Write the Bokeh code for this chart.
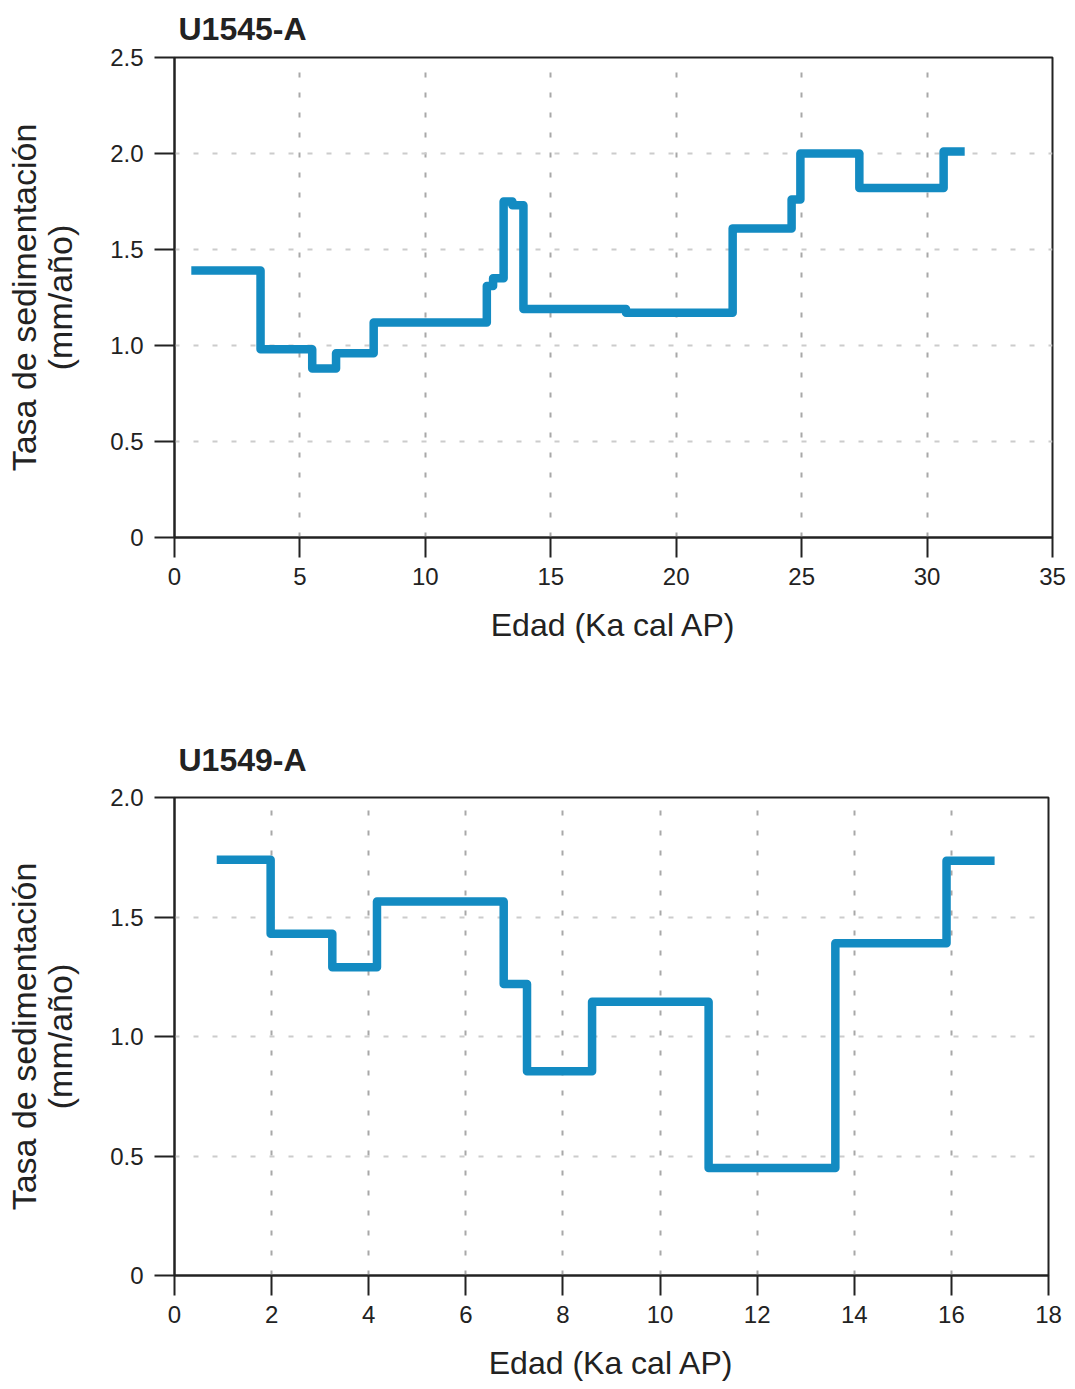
from bokeh.plotting import figure
from bokeh.models import FixedTicker, Title
from bokeh.layouts import column
from bokeh.embed import file_html
from bokeh.resources import INLINE

# ---- Data: U1545-A ----
a_title = "U1545-A"
a_edges = [0.67, 3.43, 5.49, 6.44, 7.94, 12.45, 12.7, 13.12, 13.47, 13.91, 18.0, 22.25, 24.6, 24.95, 27.3, 30.66, 31.5]
a_rates = [1.39, 0.98, 0.88, 0.96, 1.12, 1.31, 1.35, 1.75, 1.73, 1.19, 1.17, 1.61, 1.76, 2.0, 1.82, 2.01]
a_xticks = [0, 5, 10, 15, 20, 25, 30, 35]
a_yticks = [0, 0.5, 1.0, 1.5, 2.0, 2.5]
a_ylabels = ["0", "0.5", "1.0", "1.5", "2.0", "2.5"]

# ---- Data: U1549-A ----
b_title = "U1549-A"
b_edges = [0.87, 1.98, 3.25, 4.17, 6.78, 7.26, 8.60, 11.0, 13.61, 15.90, 16.89]
b_rates = [1.74, 1.43, 1.29, 1.565, 1.22, 0.855, 1.145, 0.45, 1.39, 1.735]
b_xticks = [0, 2, 4, 6, 8, 10, 12, 14, 16, 18]
b_yticks = [0, 0.5, 1.0, 1.5, 2.0]
b_ylabels = ["0", "0.5", "1.0", "1.5", "2.0"]

x_label = "Edad (Ka cal AP)"
y_label = "Tasa de sedimentación\n(mm/año)"

FONT = "Liberation Sans"
LINE = "#138BC2"


def make(title, edges, rates, xticks, yticks, ylabels, fw, fh, bl, br, bt, bb, t_standoff):
    p = figure(frame_width=fw, frame_height=fh,
               x_range=(xticks[0], xticks[-1]), y_range=(yticks[0], yticks[-1]),
               output_backend="svg", toolbar_location=None,
               min_border_left=bl, min_border_right=br,
               min_border_top=bt, min_border_bottom=bb,
               background_fill_color="white", border_fill_color="white")
    p.title = Title(text=title, align="left", offset=4, text_font=FONT,
                    text_font_size="32px", text_font_style="bold",
                    text_color="#222222", standoff=t_standoff,
                    vertical_align="top")
    p.outline_line_color = "#222222"
    p.outline_line_width = 2

    xs = list(edges)
    ys = list(rates) + [rates[-1]]
    p.step(xs, ys, mode="after", line_color=LINE, line_width=8.5,
           line_join="round", line_cap="butt")

    p.xaxis.ticker = FixedTicker(ticks=xticks)
    p.yaxis.ticker = FixedTicker(ticks=yticks)
    p.yaxis.major_label_overrides = {t: l for t, l in zip(yticks, ylabels)}
    for ax in (p.xaxis, p.yaxis):
        ax.axis_line_color = "#222222"
        ax.axis_line_width = 2
        ax.major_tick_line_color = "#222222"
        ax.major_tick_line_width = 2
        ax.major_tick_out = 20
        ax.major_tick_in = 0
        ax.minor_tick_line_color = None
        ax.major_label_text_font = FONT
        ax.major_label_text_font_size = "24px"
        ax.major_label_text_color = "#222222"
        ax.axis_label_text_font = FONT
        ax.axis_label_text_font_style = "normal"
        ax.axis_label_text_color = "#222222"
    p.xaxis.axis_label = x_label
    p.xaxis.axis_label_text_font_size = "32px"
    p.xaxis.major_label_standoff = 10
    p.xaxis.axis_label_standoff = 19
    p.yaxis.axis_label = y_label
    p.yaxis.axis_label_text_font_size = "34px"
    p.yaxis.axis_label_text_line_height = 0.95
    p.yaxis.major_label_standoff = 11
    p.yaxis.axis_label_standoff = 28

    p.xgrid.grid_line_color = "#a8a8a8"
    p.xgrid.grid_line_width = 2
    p.xgrid.grid_line_dash = "5 15"
    p.ygrid.grid_line_color = "#cccccc"
    p.ygrid.grid_line_width = 2
    p.ygrid.grid_line_dash = "5 14"
    return p


p1 = make(a_title, a_edges, a_rates, a_xticks, a_yticks, a_ylabels,
          878, 480, 174, 23, 57, 143, 17)
p2 = make(b_title, b_edges, b_rates, b_xticks, b_yticks, b_ylabels,
          874, 478, 173, 28, 117, 106, 36)

layout = column(p1, p2)
open("out.html", "w").write(file_html(layout, INLINE))
